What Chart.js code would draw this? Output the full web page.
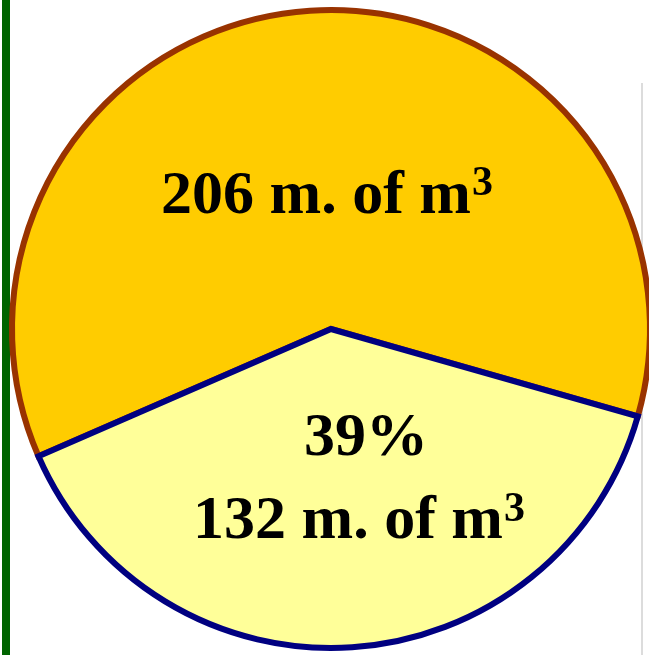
<!DOCTYPE html>
<html>
<head>
<meta charset="utf-8">
<script src="https://cdn.jsdelivr.net/npm/chart.js@4"></script>
<style>
  html, body { margin: 0; padding: 0; background: #ffffff; overflow: hidden; width: 649px; height: 655px; }
  #frame { position: relative; width: 649px; height: 655px; overflow: hidden; }
  #bar { position: absolute; left: 2px; top: 0; width: 8px; height: 655px; background: #006400; }
  #rule { position: absolute; left: 641px; top: 83px; width: 2px; height: 572px; background: #dcdcdc; }
  #wrap { position: absolute; left: 0; top: 0; width: 670px; height: 660px; }
</style>
</head>
<body>
<div id="frame">
  <div id="bar"></div>
  <div id="rule"></div>
  <div id="wrap"><canvas id="pie" width="670" height="660"></canvas></div>
</div>
<script>
// Volumes in millions of cubic metres
const categories = ['Other', 'Share'];
const volumes = [206, 132];
const fillColors = ['#FFCC00', '#FFFF99'];
const edgeColors = ['#993300', '#000080'];

const total = volumes.reduce((a, b) => a + b, 0);
const sharePct = Math.round(volumes[1] / total * 100);

function drawVolume(ctx, value, x, baseline, lift) {
  const main = value + ' m. of m';
  ctx.font = 'bold 62px "Liberation Serif", "Times New Roman", serif';
  const mainW = ctx.measureText(main).width;
  ctx.font = 'bold 42px "Liberation Serif", "Times New Roman", serif';
  const supW = ctx.measureText('3').width;
  const start = x - (mainW + 1 + supW) / 2;
  ctx.textAlign = 'left';
  ctx.textBaseline = 'alphabetic';
  ctx.font = 'bold 62px "Liberation Serif", "Times New Roman", serif';
  ctx.fillText(main, start, baseline);
  ctx.font = 'bold 42px "Liberation Serif", "Times New Roman", serif';
  ctx.fillText('3', start + mainW + 1, baseline - lift);
}

const sliceLabels = {
  id: 'sliceLabels',
  afterDatasetsDraw(chart) {
    const { ctx, chartArea } = chart;
    const cx = (chartArea.left + chartArea.right) / 2;
    const cy = (chartArea.top + chartArea.bottom) / 2;
    ctx.save();
    ctx.fillStyle = '#000000';
    drawVolume(ctx, volumes[0], cx - 4, cy - 116, 18);
    ctx.font = 'bold 62px "Liberation Serif", "Times New Roman", serif';
    ctx.textAlign = 'center';
    ctx.textBaseline = 'alphabetic';
    ctx.fillText(sharePct + '%', cx + 35, cy + 126);
    drawVolume(ctx, volumes[1], cx + 28, cy + 209, 17);
    ctx.restore();
  }
};

new Chart(document.getElementById('pie'), {
  type: 'pie',
  data: {
    labels: categories,
    datasets: [{
      data: volumes,
      backgroundColor: fillColors,
      borderColor: edgeColors,
      borderWidth: 6,
      borderJoinStyle: 'miter'
    }]
  },
  options: {
    responsive: false,
    animation: false,
    devicePixelRatio: 1,
    events: [],
    rotation: 246.5,
    layout: { padding: { left: 0, right: 8, top: 7, bottom: 9 } },
    plugins: {
      legend: { display: false },
      tooltip: { enabled: false }
    }
  },
  plugins: [sliceLabels]
});
</script>
</body>
</html>
